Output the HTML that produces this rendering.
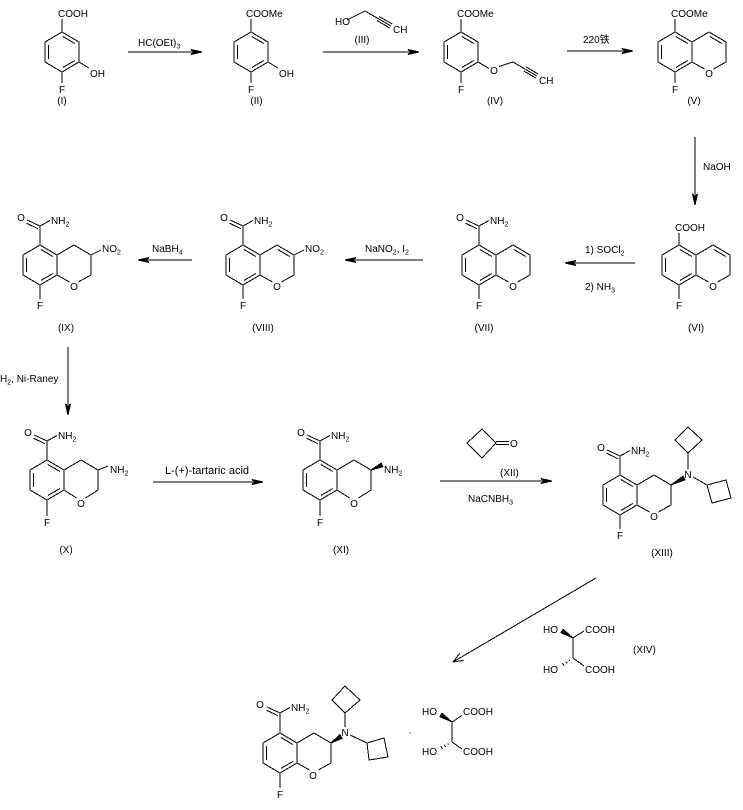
<!DOCTYPE html>
<html>
<head>
<meta charset="utf-8">
<style>
html,body{margin:0;padding:0;background:#fff;}
svg{display:block;}
text{font-family:"Liberation Sans","Noto Sans CJK SC",sans-serif;font-size:10px;fill:#000;stroke:none;}
</style>
</head>
<body>
<svg xmlns="http://www.w3.org/2000/svg" width="743" height="810" viewBox="0 0 743 810">
<rect width="743" height="810" fill="#fff"/>
<g stroke="#000" stroke-width="1" fill="none" shape-rendering="crispEdges">

<!-- ===== ROW 1 ===== -->
<!-- (I) -->
<g transform="translate(62,52)">
  <polygon points="0,-20 17,-10 17,10 0,20 -17,10 -17,-10"/>
  <line x1="0.9" y1="-15.5" x2="12.8" y2="-8.5"/>
  <line x1="12.8" y1="8.5" x2="0.9" y2="15.5"/>
  <line x1="-13.5" y1="-7" x2="-13.5" y2="7"/>
  <line x1="0" y1="-20" x2="0" y2="-33"/>
  <text x="-4" y="-35">COOH</text>
  <line x1="17" y1="10" x2="27" y2="16"/>
  <text x="28" y="25">OH</text>
  <line x1="0" y1="20" x2="0" y2="31"/>
  <text x="0" y="41" text-anchor="middle">F</text>
</g>
<text x="62" y="104" text-anchor="middle">(I)</text>

<!-- arrow 1 -->
<line x1="128" y1="52" x2="196" y2="52"/>
<polygon points="202,52 191,49.5 194,52 191,54.5" fill="#000"/>
<text x="138" y="46">HC(OEt)<tspan font-size="7" dy="2.5">3</tspan></text>

<!-- (II) -->
<g transform="translate(251,52)">
  <polygon points="0,-20 17,-10 17,10 0,20 -17,10 -17,-10"/>
  <line x1="0.9" y1="-15.5" x2="12.8" y2="-8.5"/>
  <line x1="12.8" y1="8.5" x2="0.9" y2="15.5"/>
  <line x1="-13.5" y1="-7" x2="-13.5" y2="7"/>
  <line x1="0" y1="-20" x2="0" y2="-33"/>
  <text x="-5" y="-35">COOMe</text>
  <line x1="17" y1="10" x2="27" y2="16"/>
  <text x="28" y="25">OH</text>
  <line x1="0" y1="20" x2="0" y2="31"/>
  <text x="0" y="41" text-anchor="middle">F</text>
</g>
<text x="256.5" y="104" text-anchor="middle">(II)</text>

<!-- propargyl alcohol (III) -->
<text x="335" y="25">HO</text>
<line x1="347" y1="20" x2="365" y2="11"/>
<line x1="365" y1="11" x2="378" y2="18.5"/>
<line x1="378" y1="18.5" x2="391" y2="26"/>
<line x1="376.9" y1="20.5" x2="389.9" y2="28"/>
<line x1="379.2" y1="16.5" x2="392.2" y2="24"/>
<text x="393" y="33">CH</text>
<text x="362" y="43" text-anchor="middle">(III)</text>

<!-- arrow 2 -->
<line x1="323" y1="52" x2="413" y2="52"/>
<polygon points="419,52 408,49.5 411,52 408,54.5" fill="#000"/>

<!-- (IV) -->
<g transform="translate(461,52)">
  <polygon points="0,-20 17,-10 17,10 0,20 -17,10 -17,-10"/>
  <line x1="0.9" y1="-15.5" x2="12.8" y2="-8.5"/>
  <line x1="12.8" y1="8.5" x2="0.9" y2="15.5"/>
  <line x1="-13.5" y1="-7" x2="-13.5" y2="7"/>
  <line x1="0" y1="-20" x2="0" y2="-33"/>
  <text x="-4" y="-35">COOMe</text>
  <line x1="0" y1="20" x2="0" y2="31"/>
  <text x="0" y="41" text-anchor="middle">F</text>
  <line x1="17" y1="10" x2="28" y2="16.5"/>
  <text x="33" y="22" text-anchor="middle">O</text>
  <line x1="38" y1="14.5" x2="52" y2="10"/>
  <line x1="52" y1="10" x2="64" y2="17"/>
  <line x1="64" y1="17" x2="76" y2="24"/>
  <line x1="62.8" y1="19" x2="74.8" y2="26"/>
  <line x1="65.2" y1="15" x2="77.2" y2="22"/>
  <text x="78" y="32">CH</text>
</g>
<text x="495" y="104" text-anchor="middle">(IV)</text>

<!-- arrow 3 -->
<line x1="567" y1="51" x2="627" y2="51"/>
<polygon points="633,51 622,48.5 625,51 622,53.5" fill="#000"/>
<text x="583" y="43">220铁</text>

<!-- (V) -->
<g transform="translate(675,52)">
  <polygon points="0,-20 17,-10 17,10 0,20 -17,10 -17,-10"/>
  <line x1="0.9" y1="-15.5" x2="12.8" y2="-8.5"/>
  <line x1="12.8" y1="8.5" x2="0.9" y2="15.5"/>
  <line x1="-13.5" y1="-7" x2="-13.5" y2="7"/>
  <polyline points="17,-10 34,-20 51,-10 51,10 38.5,17"/>
  <line x1="17" y1="10" x2="29.5" y2="17"/>
  <text x="34" y="25" text-anchor="middle">O</text>
  <line x1="34.9" y1="-15.5" x2="46.8" y2="-8.5"/>
  <line x1="0" y1="-20" x2="0" y2="-33"/>
  <text x="-4" y="-35">COOMe</text>
  <line x1="0" y1="20" x2="0" y2="31"/>
  <text x="0" y="41" text-anchor="middle">F</text>
</g>
<text x="694" y="104" text-anchor="middle">(V)</text>

<!-- NaOH arrow -->
<line x1="695" y1="137" x2="695" y2="199"/>
<polygon points="695,205 692.5,194 695,197 697.5,194" fill="#000"/>
<text x="703" y="170">NaOH</text>

<!-- ===== ROW 2 ===== -->
<!-- (VI) -->
<g transform="translate(679,265)">
  <polygon points="0,-20 17,-10 17,10 0,20 -17,10 -17,-10"/>
  <line x1="0.9" y1="-15.5" x2="12.8" y2="-8.5"/>
  <line x1="12.8" y1="8.5" x2="0.9" y2="15.5"/>
  <line x1="-13.5" y1="-7" x2="-13.5" y2="7"/>
  <polyline points="17,-10 34,-20 51,-10 51,10 38.5,17"/>
  <line x1="17" y1="10" x2="29.5" y2="17"/>
  <text x="34" y="25" text-anchor="middle">O</text>
  <line x1="34.9" y1="-15.5" x2="46.8" y2="-8.5"/>
  <line x1="0" y1="-20" x2="0" y2="-32"/>
  <text x="-4" y="-34">COOH</text>
  <line x1="0" y1="20" x2="0" y2="34"/>
  <text x="0" y="44" text-anchor="middle">F</text>
</g>
<text x="696" y="331" text-anchor="middle">(VI)</text>

<!-- SOCl2 arrow -->
<line x1="635" y1="263" x2="571" y2="263"/>
<polygon points="565,263 576,260.5 573,263 576,265.5" fill="#000"/>
<text x="585" y="253">1) SOCl<tspan font-size="7" dy="2.5">2</tspan></text>
<text x="585" y="290">2) NH<tspan font-size="7" dy="2.5">3</tspan></text>

<!-- (VII) -->
<g transform="translate(479,265)">
  <polygon points="0,-20 17,-10 17,10 0,20 -17,10 -17,-10"/>
  <line x1="0.9" y1="-15.5" x2="12.8" y2="-8.5"/>
  <line x1="12.8" y1="8.5" x2="0.9" y2="15.5"/>
  <line x1="-13.5" y1="-7" x2="-13.5" y2="7"/>
  <polyline points="17,-10 34,-20 51,-10 51,10 38.5,17"/>
  <line x1="17" y1="10" x2="29.5" y2="17"/>
  <text x="34" y="25" text-anchor="middle">O</text>
  <line x1="34.9" y1="-15.5" x2="46.8" y2="-8.5"/>
  <line x1="0" y1="-20" x2="0" y2="-39"/>
  <line x1="0" y1="-39" x2="-13" y2="-45"/>
  <line x1="-2" y1="-36.3" x2="-13.5" y2="-41.8"/>
  <line x1="0" y1="-39" x2="10" y2="-44.5"/>
  <text x="-19" y="-44" text-anchor="middle">O</text>
  <text x="11" y="-41">NH<tspan font-size="7" dy="2.5">2</tspan></text>
  <line x1="0" y1="20" x2="0" y2="34"/>
  <text x="0" y="44" text-anchor="middle">F</text>
</g>
<text x="484" y="331" text-anchor="middle">(VII)</text>

<!-- NaNO2 arrow -->
<line x1="423" y1="260" x2="351" y2="260"/>
<polygon points="345,260 356,257.5 353,260 356,262.5" fill="#000"/>
<text x="365" y="252">NaNO<tspan font-size="7" dy="2.5">2</tspan><tspan dy="-2.5">, I</tspan><tspan font-size="7" dy="2.5">2</tspan></text>

<!-- (VIII) -->
<g transform="translate(243,265)">
  <polygon points="0,-20 17,-10 17,10 0,20 -17,10 -17,-10"/>
  <line x1="0.9" y1="-15.5" x2="12.8" y2="-8.5"/>
  <line x1="12.8" y1="8.5" x2="0.9" y2="15.5"/>
  <line x1="-13.5" y1="-7" x2="-13.5" y2="7"/>
  <polyline points="17,-10 34,-20 51,-10 51,10 38.5,17"/>
  <line x1="17" y1="10" x2="29.5" y2="17"/>
  <text x="34" y="25" text-anchor="middle">O</text>
  <line x1="34.9" y1="-15.5" x2="46.8" y2="-8.5"/>
  <line x1="0" y1="-20" x2="0" y2="-39"/>
  <line x1="0" y1="-39" x2="-13" y2="-45"/>
  <line x1="-2" y1="-36.3" x2="-13.5" y2="-41.8"/>
  <line x1="0" y1="-39" x2="10" y2="-44.5"/>
  <text x="-19" y="-44" text-anchor="middle">O</text>
  <text x="11" y="-41">NH<tspan font-size="7" dy="2.5">2</tspan></text>
  <line x1="0" y1="20" x2="0" y2="34"/>
  <text x="0" y="44" text-anchor="middle">F</text>
  <line x1="51" y1="-10" x2="61" y2="-15"/>
  <text x="62" y="-13">NO<tspan font-size="7" dy="2.5">2</tspan></text>
</g>
<text x="263" y="331" text-anchor="middle">(VIII)</text>

<!-- NaBH4 arrow -->
<line x1="192" y1="260" x2="144" y2="260"/>
<polygon points="138,260 149,257.5 146,260 149,262.5" fill="#000"/>
<text x="152" y="252">NaBH<tspan font-size="7" dy="2.5">4</tspan></text>

<!-- (IX) -->
<g transform="translate(40,265)">
  <polygon points="0,-20 17,-10 17,10 0,20 -17,10 -17,-10"/>
  <line x1="0.9" y1="-15.5" x2="12.8" y2="-8.5"/>
  <line x1="12.8" y1="8.5" x2="0.9" y2="15.5"/>
  <line x1="-13.5" y1="-7" x2="-13.5" y2="7"/>
  <polyline points="17,-10 34,-20 51,-10 51,10 38.5,17"/>
  <line x1="17" y1="10" x2="29.5" y2="17"/>
  <text x="34" y="25" text-anchor="middle">O</text>
  <line x1="0" y1="-20" x2="0" y2="-39"/>
  <line x1="0" y1="-39" x2="-13" y2="-45"/>
  <line x1="-2" y1="-36.3" x2="-13.5" y2="-41.8"/>
  <line x1="0" y1="-39" x2="10" y2="-44.5"/>
  <text x="-19" y="-44" text-anchor="middle">O</text>
  <text x="11" y="-41">NH<tspan font-size="7" dy="2.5">2</tspan></text>
  <line x1="0" y1="20" x2="0" y2="34"/>
  <text x="0" y="44" text-anchor="middle">F</text>
  <line x1="51" y1="-10" x2="61" y2="-15"/>
  <text x="62" y="-13">NO<tspan font-size="7" dy="2.5">2</tspan></text>
</g>
<text x="66" y="331" text-anchor="middle">(IX)</text>

<!-- H2 Ni-Raney arrow -->
<line x1="68" y1="347" x2="68" y2="409"/>
<polygon points="68,415 65.5,404 68,407 70.5,404" fill="#000"/>
<text x="0" y="382">H<tspan font-size="7" dy="2.5">2</tspan><tspan dy="-2.5">, Ni-Raney</tspan></text>

<!-- ===== ROW 3 ===== -->
<!-- (X) -->
<g transform="translate(47,480)">
  <polygon points="0,-20 17,-10 17,10 0,20 -17,10 -17,-10"/>
  <line x1="0.9" y1="-15.5" x2="12.8" y2="-8.5"/>
  <line x1="12.8" y1="8.5" x2="0.9" y2="15.5"/>
  <line x1="-13.5" y1="-7" x2="-13.5" y2="7"/>
  <polyline points="17,-10 34,-20 51,-10 51,10 38.5,18"/>
  <line x1="17" y1="10" x2="29.5" y2="18"/>
  <text x="34" y="27" text-anchor="middle">O</text>
  <line x1="0" y1="-20" x2="0" y2="-39"/>
  <line x1="0" y1="-39" x2="-13" y2="-45"/>
  <line x1="-2" y1="-36.3" x2="-13.5" y2="-41.8"/>
  <line x1="0" y1="-39" x2="10" y2="-44.5"/>
  <text x="-19" y="-44" text-anchor="middle">O</text>
  <text x="11" y="-41">NH<tspan font-size="7" dy="2.5">2</tspan></text>
  <line x1="0" y1="20" x2="0" y2="36"/>
  <text x="0" y="46" text-anchor="middle">F</text>
  <line x1="51" y1="-10" x2="61" y2="-14"/>
  <text x="63" y="-7">NH<tspan font-size="7" dy="2.5">2</tspan></text>
</g>
<text x="66" y="553" text-anchor="middle">(X)</text>

<!-- tartaric acid arrow -->
<line x1="153" y1="482" x2="257" y2="482"/>
<polygon points="263,482 252,479.5 255,482 252,484.5" fill="#000"/>
<text x="165" y="474" style="font-size:11px">L-(+)-tartaric acid</text>

<!-- (XI) -->
<g transform="translate(320,480)">
  <polygon points="0,-20 17,-10 17,10 0,20 -17,10 -17,-10"/>
  <line x1="0.9" y1="-15.5" x2="12.8" y2="-8.5"/>
  <line x1="12.8" y1="8.5" x2="0.9" y2="15.5"/>
  <line x1="-13.5" y1="-7" x2="-13.5" y2="7"/>
  <polyline points="17,-10 34,-20 51,-10 51,10 38.5,18"/>
  <line x1="17" y1="10" x2="29.5" y2="18"/>
  <text x="34" y="27" text-anchor="middle">O</text>
  <line x1="0" y1="-20" x2="0" y2="-39"/>
  <line x1="0" y1="-39" x2="-13" y2="-45"/>
  <line x1="-2" y1="-36.3" x2="-13.5" y2="-41.8"/>
  <line x1="0" y1="-39" x2="10" y2="-44.5"/>
  <text x="-19" y="-44" text-anchor="middle">O</text>
  <text x="11" y="-41">NH<tspan font-size="7" dy="2.5">2</tspan></text>
  <line x1="0" y1="20" x2="0" y2="36"/>
  <text x="0" y="46" text-anchor="middle">F</text>
  <polygon points="51,-10 62.8,-13.2 61.2,-16.8" fill="#000"/>
  <text x="64" y="-7">NH<tspan font-size="7" dy="2.5">2</tspan></text>
</g>
<text x="341" y="553" text-anchor="middle">(XI)</text>

<!-- cyclobutanone (XII) + arrow -->
<polygon points="467,443 482,429 496,443 482,458"/>
<line x1="496" y1="441.5" x2="509" y2="441.5"/>
<line x1="496" y1="444.5" x2="509" y2="444.5"/>
<text x="510" y="447">O</text>
<text x="500" y="476">(XII)</text>
<line x1="440" y1="481" x2="546" y2="481"/>
<polygon points="552,481 541,478.5 544,481 541,483.5" fill="#000"/>
<text x="468" y="502">NaCNBH<tspan font-size="7" dy="2.5">3</tspan></text>

<!-- (XIII) -->
<g transform="translate(620,495)">
  <polygon points="0,-20 17,-10 17,10 0,20 -17,10 -17,-10"/>
  <line x1="0.9" y1="-15.5" x2="12.8" y2="-8.5"/>
  <line x1="12.8" y1="8.5" x2="0.9" y2="15.5"/>
  <line x1="-13.5" y1="-7" x2="-13.5" y2="7"/>
  <polyline points="17,-10 34,-20 51,-10 51,10 38.5,17"/>
  <line x1="17" y1="10" x2="29.5" y2="17"/>
  <text x="34" y="25" text-anchor="middle">O</text>
  <line x1="0" y1="-20" x2="0" y2="-39"/>
  <line x1="0" y1="-39" x2="-13" y2="-45"/>
  <line x1="-2" y1="-36.3" x2="-13.5" y2="-41.8"/>
  <line x1="0" y1="-39" x2="10" y2="-44.5"/>
  <text x="-19" y="-44" text-anchor="middle">O</text>
  <text x="11" y="-41">NH<tspan font-size="7" dy="2.5">2</tspan></text>
  <line x1="0" y1="20" x2="0" y2="34"/>
  <text x="0" y="44" text-anchor="middle">F</text>
  <polygon points="51,-10 65,-15.1 63,-18.9" fill="#000"/>
  <text x="68" y="-17" text-anchor="middle">N</text>
  <line x1="68" y1="-26" x2="68" y2="-42"/>
  <polygon points="68,-42 55,-55 68,-68 82,-55"/>
  <line x1="73" y1="-18" x2="87" y2="-10"/>
  <polygon points="87,-10 106,-15 111,3 92,8"/>
</g>
<text x="662" y="556" text-anchor="middle">(XIII)</text>

<!-- diagonal arrow -->
<line x1="596" y1="578" x2="454" y2="661.4"/>
<line x1="453" y1="662" x2="463.6" y2="660.4"/>
<line x1="453" y1="662" x2="459.6" y2="653.5"/>

<!-- tartaric acid (XIV) -->
<text x="543" y="633">HO</text>
<text x="585" y="633">COOH</text>
<text x="543" y="673">HO</text>
<text x="585" y="673">COOH</text>
<line x1="573" y1="638" x2="573" y2="658"/>
<polygon points="573,638 563.1,629.3 560.9,632.7" fill="#000"/>
<line x1="573" y1="638" x2="584" y2="631"/>
<line x1="573" y1="658" x2="584" y2="666"/>
<line x1="569" y1="659.8" x2="569.8" y2="661"/>
<line x1="565.7" y1="661.4" x2="567.1" y2="663.4"/>
<line x1="562.5" y1="663" x2="564.3" y2="665.8"/>
<text x="633" y="653">(XIV)</text>

<!-- final compound -->
<g transform="translate(280,753)">
  <polygon points="0,-20 17,-10 17,10 0,20 -17,10 -17,-10"/>
  <line x1="0.9" y1="-15.5" x2="12.8" y2="-8.5"/>
  <line x1="12.8" y1="8.5" x2="0.9" y2="15.5"/>
  <line x1="-13.5" y1="-7" x2="-13.5" y2="7"/>
  <polyline points="17,-10 34,-20 51,-10 51,10 38.5,17"/>
  <line x1="17" y1="10" x2="29.5" y2="17"/>
  <text x="33" y="26" text-anchor="middle">O</text>
  <line x1="0" y1="-20" x2="0" y2="-40"/>
  <line x1="0" y1="-40" x2="-13" y2="-46"/>
  <line x1="-2" y1="-37.3" x2="-13.5" y2="-42.8"/>
  <line x1="0" y1="-40" x2="10" y2="-45.5"/>
  <text x="-20" y="-45" text-anchor="middle">O</text>
  <text x="11" y="-42">NH<tspan font-size="7" dy="2.5">2</tspan></text>
  <line x1="0" y1="20" x2="0" y2="35"/>
  <text x="0" y="45" text-anchor="middle">F</text>
  <polygon points="51,-10 62.1,-14.6 59.9,-18.4" fill="#000"/>
  <text x="65" y="-17" text-anchor="middle">N</text>
  <line x1="65" y1="-26" x2="65" y2="-40"/>
  <polygon points="65,-40 52,-53 65,-67 80,-53"/>
  <line x1="70" y1="-18" x2="87" y2="-10"/>
  <polygon points="87,-10 104,-15 108,4 89,7"/>
</g>

<!-- salt dot -->
<rect x="409.5" y="732.5" width="1" height="1" fill="#000" stroke="none"/>

<!-- tartaric acid salt -->
<text x="422" y="715">HO</text>
<text x="463" y="715">COOH</text>
<text x="422" y="755">HO</text>
<text x="463" y="755">COOH</text>
<line x1="452" y1="722" x2="452" y2="742"/>
<polygon points="452,722 442.1,713.3 439.9,716.7" fill="#000"/>
<line x1="452" y1="722" x2="462" y2="715.5"/>
<line x1="452" y1="742" x2="462" y2="749"/>
<line x1="447.8" y1="743.5" x2="448.4" y2="744.7"/>
<line x1="444.3" y1="744.8" x2="445.5" y2="747"/>
<line x1="440.8" y1="746.1" x2="442.4" y2="749.1"/>

</g>
</svg>
</body>
</html>
